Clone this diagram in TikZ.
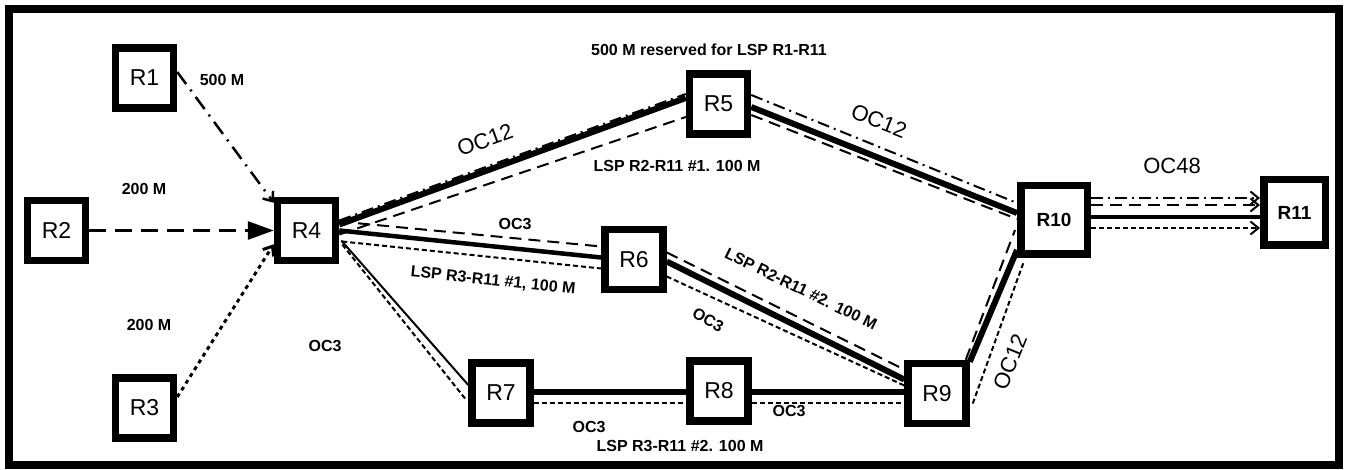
\documentclass[tikz,border=0pt]{standalone}
\usepackage{fontspec}
\setmainfont{Liberation Sans}
\usetikzlibrary{arrows.meta,calc}
\pgfdeclarelayer{bg}
\pgfsetlayers{bg,main}
\begin{document}
\begin{tikzpicture}[x=1pt,y=-1pt,
  router/.style={draw, fill=white, line width=7.5pt, minimum width=58pt, minimum height=60pt, inner sep=0pt, font=\fontsize{23}{25}\selectfont},
  bigrouter/.style={router, font=\bfseries\fontsize{19}{21}\selectfont},
  lbl/.style={font=\bfseries\fontsize{16}{18}\selectfont, inner sep=0pt},
  big/.style={font=\fontsize{22}{24}\selectfont, inner sep=0pt},
  link/.style={line width=6pt},
  midlink/.style={line width=4.5pt},
  thinlink/.style={line width=2pt},
  lspdd/.style={line width=2pt, dash pattern=on 12pt off 5pt on 2pt off 5pt},
  lspda/.style={line width=2pt, dash pattern=on 12pt off 7pt},
  lspdo/.style={line width=2pt, dash pattern=on 5pt off 3pt},
  barb/.style={-{Straight Barb[length=8pt,width=13pt]}}
]
\useasboundingbox (0,0) rectangle (1348,470);
\draw[line width=8pt] (9,9) rectangle (1339,465);

% routers
\node[router] (R1) at (144.5,78) {R1};
\node[router] (R2) at (56.5,230.5) {R2};
\node[router] (R3) at (144.5,408) {R3};
\node[router] (R4) at (306.5,230.5) {R4};
\node[router] (R5) at (718.5,104) {R5};
\node[router] (R6) at (634,259.5) {R6};
\node[router] (R7) at (501,393) {R7};
\node[router] (R8) at (719,391) {R8};
\node[router] (R9) at (937,393.5) {R9};
\node[bigrouter, minimum width=66.5pt, minimum height=68.5pt] (R10) at (1054,220) {R10};
\node[bigrouter, minimum width=61.5pt, minimum height=65.5pt] (R11) at (1294.5,212.5) {R11};

\begin{pgfonlayer}{bg}
% ingress flows
\draw[line width=2.5pt, dash pattern=on 15pt off 7pt on 2pt off 7pt, barb] ($(R1.east)+(0,-6)$) -- ($(R4.north west)+(0,6)$);
\draw[line width=3pt, dash pattern=on 17pt off 9pt, -{Triangle[length=26pt,width=18pt]}] (R2.east) -- (R4.west);
\draw[line width=3pt, dash pattern=on 4pt off 4pt, barb] ($(R3.east)+(0,-11)$) -- ($(R4.south west)+(0,-20)$);

% physical links
\draw[link] ($(R4.east)+(0,-6)$) -- ($(R5.west)+(0,-6)$);
\draw[link] ($(R5.east)+(0,3)$) -- ($(R10.west)+(0,-7)$);
\draw[midlink] (R4.east) -- ($(R6.west)+(0,-2)$);
\draw[thinlink] ($(R4.east)+(2,10)$) -- ($(R7.west)+(0,-8)$);
\draw[link] ($(R7.east)+(0,-1)$) -- ($(R8.west)+(0,1)$);
\draw[link] ($(R8.east)+(0,1)$) -- ($(R9.west)+(0,-1.5)$);
\draw[link] ($(R6.east)+(0,2)$) -- ($(R9.west)+(0,-14)$);
\draw[link] ($(R9.north east)+(0,2)$) -- ($(R10.south west)+(0,-8)$);
\draw[midlink] ($(R10.east)+(0,-3)$) -- ($(R11.west)+(0,4.5)$);

% LSP R1-R11 (dash-dot)
\draw[lspdd] ($(R4.east)+(0,-10)$) -- ($(R5.west)+(0,-10)$);
\draw[lspdd] ($(R5.east)+(0,-9)$) -- ($(R10.west)+(0,-17)$);
\draw[lspdd, barb] ($(R10.east)+(0,-22)$) -- ($(R11.west)+(0,-14.5)$);

% LSP R2-R11 #1 (dashed)
\draw[lspda] ($(R4.east)+(0,4)$) -- ($(R5.west)+(0,13)$);
\draw[lspda] ($(R5.east)+(0,11)$) -- ($(R10.west)+(0,-1)$);
\draw[lspda, barb] ($(R10.east)+(0,-15)$) -- ($(R11.west)+(0,-7.5)$);

% LSP R2-R11 #2 (dashed)
\draw[lspda] ($(R4.east)+(0,-9)$) -- ($(R6.west)+(0,-13)$);
\draw[lspda] ($(R6.east)+(0,-7)$) -- ($(R9.west)+(0,-24)$);
\draw[lspda] ($(R9.north east)+(-4,0)$) -- ($(R10.west)+(-2,10)$);

% LSP R3-R11 #1 (dotted)
\draw[lspdo] ($(R4.east)+(3,11)$) -- ($(R6.west)+(0,9)$);
\draw[lspdo] ($(R6.east)+(0,17)$) -- ($(R9.west)+(0,-8)$);
\draw[lspdo] ($(R9.east)+(3,10)$) -- ($(R10.south west)+(7,3)$);
\draw[lspdo, barb] ($(R10.east)+(0,8)$) -- ($(R11.west)+(0,15.5)$);

% LSP R3-R11 #2 (dotted)
\draw[lspdo] ($(R4.east)+(3,14)$) -- ($(R7.west)+(-2,7)$);
\draw[lspdo] ($(R7.east)+(0,10)$) -- ($(R8.west)+(0,12)$);
\draw[lspdo] ($(R8.east)+(0,12)$) -- ($(R9.west)+(0,9.5)$);
\end{pgfonlayer}

% labels
\node[lbl] (t1) at (222,80) {500 M};
\node[lbl] (t2) at (144,189) {200 M};
\node[lbl] (t3) at (149,325) {200 M};
\node[lbl] (t4) at (325,346) {OC3};
\node[lbl] (t5) at (709,50) {500 M reserved for LSP R1-R11};
\node[big, rotate=20] (t6) at (485,140) {OC12};
\node[lbl] (t7) at (677,166) {LSP R2-R11 \#1. 100 M};
\node[big, rotate=-21.5] (t8) at (879,121) {OC12};
\node[lbl] (t9) at (515,224) {OC3};
\node[lbl, rotate=-6] (t10) at (493,281) {LSP R3-R11 \#1, 100 M};
\node[lbl, rotate=-26] (t11) at (801,289) {LSP R2-R11 \#2. 100 M};
\node[lbl, rotate=-30] (t12) at (708,320) {OC3};
\node[big, rotate=68] (t13) at (1010,362) {OC12};
\node[big] (t14) at (1172,166) {OC48};
\node[lbl] (t15) at (589,427) {OC3};
\node[lbl] (t16) at (789,411) {OC3};
\node[lbl] (t17) at (680,446) {LSP R3-R11 \#2. 100 M};
\end{tikzpicture}
\end{document}
